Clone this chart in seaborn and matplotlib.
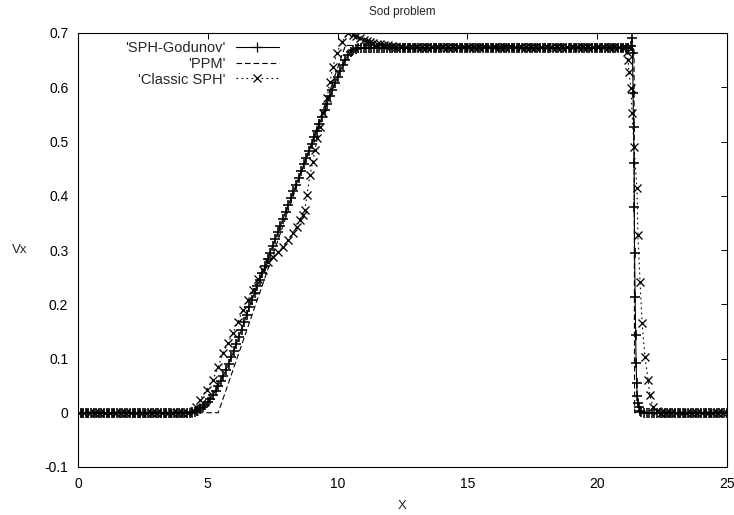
import matplotlib
matplotlib.use("Agg")
import matplotlib.pyplot as plt
import seaborn as sns

# ---------------- data ----------------
godunov_x = [
    0.0, 0.1, 0.2, 0.3, 0.4, 0.5, 0.6, 0.7, 0.8, 0.9,
    1.0, 1.1, 1.2, 1.3, 1.4, 1.5, 1.6, 1.7, 1.8, 1.9,
    2.0, 2.1, 2.2, 2.3, 2.4, 2.5, 2.6, 2.7, 2.8, 2.9,
    3.0, 3.1, 3.2, 3.3, 3.4, 3.5, 3.6, 3.7, 3.8, 3.9,
    4.0, 4.1, 4.2,
    4.3, 4.4, 4.5, 4.6, 4.7, 4.8, 4.9, 5.0, 5.1, 5.2, 5.3, 5.4, 5.5, 5.6, 5.7, 5.8, 5.9, 6.0, 6.1, 6.2, 6.3,
    6.4, 6.5, 6.6, 6.7, 6.8, 6.9, 7.0, 7.1, 7.2, 7.3, 7.4, 7.5, 7.6, 7.7, 7.8, 7.9, 8.0, 8.1, 8.2, 8.3, 8.4,
    8.5, 8.6, 8.7, 8.8, 8.9, 9.0, 9.1, 9.2, 9.3, 9.4, 9.5, 9.6, 9.7, 9.8, 9.9, 10.0, 10.1, 10.2, 10.3, 10.4,
    10.5, 10.6, 10.7, 10.8, 10.9,
    11.0, 11.1, 11.2, 11.3, 11.4, 11.5, 11.6, 11.7, 11.8, 11.9,
    12.0, 12.1, 12.2, 12.3, 12.4, 12.5, 12.6, 12.7, 12.8, 12.9,
    13.0, 13.1, 13.2, 13.3, 13.4, 13.5, 13.6, 13.7, 13.8, 13.9,
    14.0, 14.1, 14.2, 14.3, 14.4, 14.5, 14.6, 14.7, 14.8, 14.9,
    15.0, 15.1, 15.2, 15.3, 15.4, 15.5, 15.6, 15.7, 15.8, 15.9,
    16.0, 16.1, 16.2, 16.3, 16.4, 16.5, 16.6, 16.7, 16.8, 16.9,
    17.0, 17.1, 17.2, 17.3, 17.4, 17.5, 17.6, 17.7, 17.8, 17.9,
    18.0, 18.1, 18.2, 18.3, 18.4, 18.5, 18.6, 18.7, 18.8, 18.9,
    19.0, 19.1, 19.2, 19.3, 19.4, 19.5, 19.6, 19.7, 19.8, 19.9,
    20.0, 20.1, 20.2, 20.3, 20.4, 20.5, 20.6, 20.7, 20.8, 20.9,
    21.0, 21.1,
    21.20, 21.30, 21.34, 21.36, 21.38, 21.40, 21.42, 21.43, 21.44, 21.46, 21.48, 21.50, 21.52, 21.54, 21.57,
    21.60, 21.64, 21.70,
    21.8, 21.9,
    22.0, 22.1, 22.2, 22.3, 22.4, 22.5, 22.6, 22.7, 22.8, 22.9,
    23.0, 23.1, 23.2, 23.3, 23.4, 23.5, 23.6, 23.7, 23.8, 23.9,
    24.0, 24.1, 24.2, 24.3, 24.4, 24.5, 24.6, 24.7, 24.8, 24.9,
    25.0,
]
godunov_y = [
    0, 0, 0, 0, 0, 0, 0, 0, 0, 0,
    0, 0, 0, 0, 0, 0, 0, 0, 0, 0,
    0, 0, 0, 0, 0, 0, 0, 0, 0, 0,
    0, 0, 0, 0, 0, 0, 0, 0, 0, 0,
    0, 0, 0,
    0.000, 0.001, 0.002, 0.004, 0.007, 0.010, 0.014, 0.019, 0.025, 0.033, 0.041, 0.050, 0.059, 0.068, 0.079,
    0.090, 0.102, 0.114, 0.127, 0.140, 0.153,
    0.167, 0.181, 0.195, 0.208, 0.221, 0.233, 0.245, 0.258, 0.270, 0.283, 0.295, 0.308, 0.320, 0.333, 0.345,
    0.358, 0.370, 0.383, 0.395, 0.408, 0.420,
    0.433, 0.445, 0.458, 0.470, 0.483, 0.495, 0.508, 0.520, 0.533, 0.545, 0.558, 0.570, 0.583, 0.595, 0.607,
    0.619, 0.630, 0.641, 0.651, 0.659,
    0.665, 0.669, 0.671, 0.672, 0.673,
    0.673, 0.673, 0.673, 0.673, 0.673, 0.673, 0.673, 0.673, 0.673, 0.673,
    0.673, 0.673, 0.673, 0.673, 0.673, 0.673, 0.673, 0.673, 0.673, 0.673,
    0.673, 0.673, 0.673, 0.673, 0.673, 0.673, 0.673, 0.673, 0.673, 0.673,
    0.673, 0.673, 0.673, 0.673, 0.673, 0.673, 0.673, 0.673, 0.673, 0.673,
    0.673, 0.673, 0.673, 0.673, 0.673, 0.673, 0.673, 0.673, 0.673, 0.673,
    0.673, 0.673, 0.673, 0.673, 0.673, 0.673, 0.673, 0.673, 0.673, 0.673,
    0.673, 0.673, 0.673, 0.673, 0.673, 0.673, 0.673, 0.673, 0.673, 0.673,
    0.673, 0.673, 0.673, 0.673, 0.673, 0.673, 0.673, 0.673, 0.673, 0.673,
    0.673, 0.673, 0.673, 0.673, 0.673, 0.673, 0.673, 0.673, 0.673, 0.673,
    0.673, 0.673, 0.673, 0.673, 0.673, 0.673, 0.673, 0.673, 0.673, 0.673,
    0.673, 0.673,
    0.673, 0.676, 0.690, 0.664, 0.590, 0.527, 0.461, 0.380, 0.295, 0.214, 0.144, 0.092, 0.055, 0.030, 0.018,
    0.010, 0.004, 0.001,
    0, 0,
    0, 0, 0, 0, 0, 0, 0, 0, 0, 0,
    0, 0, 0, 0, 0, 0, 0, 0, 0, 0,
    0, 0, 0, 0, 0, 0, 0, 0, 0, 0,
    0,
]

ppm_x = [0.0, 5.4, 10.3, 21.42, 21.44, 25.0]
ppm_y = [0.0, 0.0, 0.677, 0.677, 0.0, 0.0]

classic_x = [
    0.05, 0.25, 0.45, 0.65, 0.85, 1.05, 1.25, 1.45, 1.65, 1.85, 2.05, 2.25, 2.45, 2.65, 2.85, 3.05, 3.25,
    3.45, 3.65, 3.85, 4.05, 4.25, 4.45,
    4.55, 4.70, 4.95, 5.20, 5.40, 5.59, 5.78, 5.97, 6.16, 6.36, 6.55, 6.74, 6.93, 7.13, 7.32, 7.51, 7.70,
    7.90, 8.09, 8.28, 8.42, 8.55, 8.65, 8.74, 8.82, 8.94, 9.04, 9.13, 9.22, 9.32, 9.45, 9.59, 9.70, 9.82,
    9.98, 10.17, 10.40, 10.59, 10.72, 10.86, 11.00, 11.13, 11.25, 11.36, 11.50, 11.65, 11.80, 11.95, 12.10,
    12.25,
    12.45, 12.65, 12.85, 13.05, 13.25, 13.45, 13.65, 13.85, 14.05, 14.25, 14.45, 14.65, 14.85, 15.05, 15.25,
    15.45, 15.65, 15.85, 16.05, 16.25, 16.45, 16.65, 16.85, 17.05, 17.25, 17.45, 17.65, 17.85, 18.05, 18.25,
    18.45, 18.65, 18.85, 19.05, 19.25, 19.45, 19.65, 19.85, 20.05, 20.25, 20.45, 20.65, 20.85, 21.05,
    21.15, 21.19, 21.22, 21.30, 21.34, 21.42, 21.53, 21.57, 21.65, 21.73, 21.84, 21.96, 22.03, 22.15, 22.30,
    22.45, 22.65, 22.85, 23.05, 23.25, 23.45, 23.65, 23.85, 24.05, 24.25, 24.45, 24.65, 24.85,
]
classic_y = [
    0, 0, 0, 0, 0, 0, 0, 0, 0, 0, 0, 0, 0, 0, 0, 0, 0,
    0, 0, 0, 0, 0, 0.003,
    0.010, 0.024, 0.042, 0.061, 0.085, 0.110, 0.129, 0.147, 0.168, 0.190, 0.208, 0.227, 0.246, 0.264, 0.277,
    0.288, 0.297,
    0.306, 0.318, 0.331, 0.343, 0.356, 0.364, 0.374, 0.402, 0.439, 0.462, 0.485, 0.506, 0.527, 0.553, 0.580,
    0.609, 0.638,
    0.664, 0.684, 0.700, 0.697, 0.694, 0.691, 0.688, 0.686, 0.684, 0.682, 0.680, 0.679, 0.678, 0.677, 0.676,
    0.675,
    0.675, 0.675, 0.675, 0.675, 0.675, 0.675, 0.675, 0.675, 0.675, 0.675, 0.675, 0.675, 0.675, 0.675, 0.675,
    0.675, 0.675, 0.675, 0.675, 0.675, 0.675, 0.675, 0.675, 0.675, 0.675, 0.675, 0.675, 0.675, 0.675, 0.675,
    0.675, 0.675, 0.675, 0.675, 0.675, 0.675, 0.675, 0.675, 0.675, 0.675, 0.675, 0.675, 0.675, 0.675,
    0.665, 0.651, 0.629, 0.599, 0.553, 0.490, 0.415, 0.328, 0.241, 0.166, 0.103, 0.061, 0.033, 0.011, 0.004,
    0, 0, 0, 0, 0, 0, 0, 0, 0, 0, 0, 0, 0,
]

series_labels = ["'SPH-Godunov'", "'PPM'", "'Classic SPH'"]
x_ticks = [0, 5, 10, 15, 20, 25]
y_ticks = [-0.1, 0.0, 0.1, 0.2, 0.3, 0.4, 0.5, 0.6, 0.7]
y_tick_labels = ["-0.1", "0", "0.1", "0.2", "0.3", "0.4", "0.5", "0.6", "0.7"]

assert len(godunov_x) == len(godunov_y), (len(godunov_x), len(godunov_y))
assert len(classic_x) == len(classic_y), (len(classic_x), len(classic_y))

# ---------------- plot ----------------
sns.set_style("white")
plt.rcParams["font.family"] = ["Liberation Sans", "DejaVu Sans"]
plt.rcParams["font.size"] = 9

fig = plt.figure(figsize=(7.34, 5.15), dpi=100)
ax = fig.add_axes([78 / 734, 48 / 515, 649 / 734, 434 / 515])

sns.lineplot(x=godunov_x, y=godunov_y, ax=ax, sort=False, estimator=None,
             color="black", linewidth=0.8, marker="+", markersize=6.5,
             markeredgewidth=1.15, markeredgecolor="black", label=series_labels[0])
sns.lineplot(x=ppm_x, y=ppm_y, ax=ax, sort=False, estimator=None,
             color="black", linewidth=0.8, linestyle=(0, (5, 2.7)), label=series_labels[1])
sns.lineplot(x=classic_x, y=classic_y, ax=ax, sort=False, estimator=None,
             color="black", linewidth=0.8, linestyle=(0, (1.5, 3)), marker="x",
             markersize=5.5, markeredgewidth=0.95, markeredgecolor="black",
             label=series_labels[2])

ax.set_xlim(0, 25)
ax.set_ylim(-0.1, 0.7)
ax.set_xticks(x_ticks)
ax.set_xticklabels([str(t) for t in x_ticks])
ax.set_yticks(y_ticks)
ax.set_yticklabels(y_tick_labels)
ax.tick_params(direction="in", top=True, right=True, length=4.5, width=0.7,
               pad=7, labelsize=10, colors="black")
for s in ax.spines.values():
    s.set_color("black")
    s.set_linewidth(0.8)

ax.set_title("Sod problem", fontsize=8.5, pad=13)
ax.set_xlabel("X", fontsize=9.5, labelpad=7)
ax.set_ylabel("Vx", fontsize=9.5, rotation=0, labelpad=18, va="center")

leg = ax.legend(loc="upper right", bbox_to_anchor=(0.326, 1.005), frameon=False,
                markerfirst=False, numpoints=1, handlelength=3.0, handletextpad=0.7,
                labelspacing=0.12, fontsize=10.5, borderaxespad=0.3)
for h in leg.legend_handles:
    h.set_markeredgewidth(0.9)

fig.savefig("out.png", dpi=100)
